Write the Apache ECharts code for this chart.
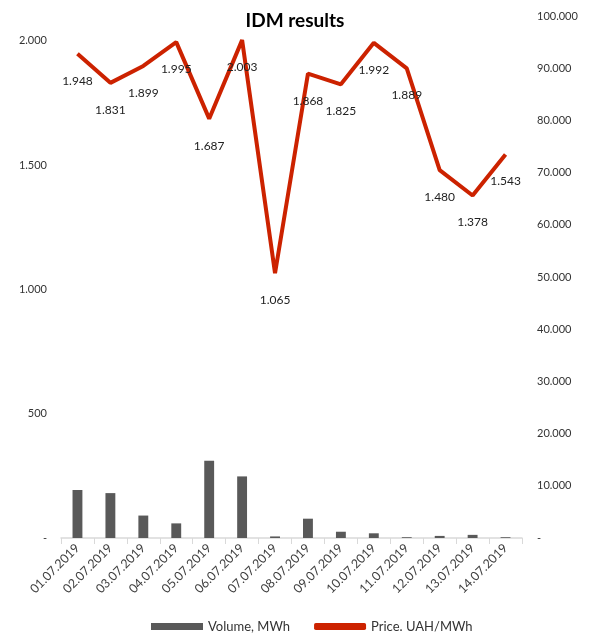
<!DOCTYPE html>
<html>
<head>
<meta charset="utf-8">
<script src="https://cdn.jsdelivr.net/npm/echarts@6/dist/echarts.min.js"></script>
<style>
  html, body { margin: 0; padding: 0; background: #fff; }
  #main { width: 590px; height: 642px; }
</style>
</head>
<body>
<div id="main"></div>
<script>
var dates = ['01.07.2019', '02.07.2019', '03.07.2019', '04.07.2019', '05.07.2019', '06.07.2019', '07.07.2019',
  '08.07.2019', '09.07.2019', '10.07.2019', '11.07.2019', '12.07.2019', '13.07.2019', '14.07.2019'];
var volume = [9200, 8600, 4300, 2800, 14800, 11800, 300, 3700, 1200, 900, 150, 400, 600, 150];
var price = [1948, 1831, 1899, 1995, 1687, 2003, 1065, 1868, 1825, 1992, 1889, 1480, 1378, 1543];

// 1234 -> "1.234", 0 -> "-"
function fmt(v) {
  if (v === 0) return '-';
  return String(Math.round(v)).replace(/\B(?=(\d{3})+(?!\d))/g, '.');
}

var chart = echarts.init(document.getElementById('main'));
var option = {
  backgroundColor: '#ffffff',
  animation: false,
  textStyle: { fontFamily: 'Lato' },
  title: {
    text: 'IDM results',
    left: 'center',
    top: 6,
    textStyle: { fontSize: 19, fontWeight: 'bold', color: '#000', fontFamily: 'Lato' }
  },
  legend: {
    bottom: 4,
    left: 146,
    itemGap: 24,
    itemWidth: 52,
    itemHeight: 7,
    textStyle: { fontSize: 13, color: '#333' },
    data: [
      { name: 'Volume, MWh', icon: 'rect' },
      { name: 'Price. UAH/MWh', icon: 'roundRect' }
    ]
  },
  grid: { left: 61, right: 68, top: 16, bottom: 104 },
  xAxis: {
    type: 'category',
    data: dates,
    boundaryGap: true,
    axisLine: { lineStyle: { color: '#d9d9d9', width: 1.5 } },
    axisTick: { show: true, length: 6, lineStyle: { color: '#d9d9d9' } },
    axisLabel: { rotate: 45, interval: 0, fontSize: 12.5, color: '#404040', margin: 8 }
  },
  yAxis: [
    {
      type: 'value',
      min: 0, max: 2100, interval: 500,
      splitLine: { show: false },
      axisLine: { show: false },
      axisTick: { show: false },
      axisLabel: {
        fontSize: 11, color: '#333', margin: 14,
        formatter: function (v) { return v > 2000 ? '' : fmt(v); }
      }
    },
    {
      type: 'value',
      min: 0, max: 100000, interval: 10000,
      position: 'right',
      splitLine: { show: false },
      axisLine: { show: false },
      axisTick: { show: false },
      axisLabel: { fontSize: 11, color: '#333', margin: 15, formatter: fmt }
    }
  ],
  series: [
    {
      name: 'Volume, MWh',
      type: 'bar',
      yAxisIndex: 1,
      data: volume,
      barWidth: '30%',
      itemStyle: { color: '#595959' }
    },
    {
      name: 'Price. UAH/MWh',
      type: 'line',
      yAxisIndex: 0,
      data: price,
      symbol: 'circle',
      symbolSize: 0,
      showSymbol: true,
      lineStyle: { color: '#cc2200', width: 4 },
      itemStyle: { color: '#cc2200' },
      label: {
        show: true,
        position: 'bottom',
        distance: 21,
        fontSize: 12,
        color: '#222',
        formatter: function (p) { return fmt(p.value); }
      }
    }
  ]
};
chart.setOption(option);
</script>
</body>
</html>
